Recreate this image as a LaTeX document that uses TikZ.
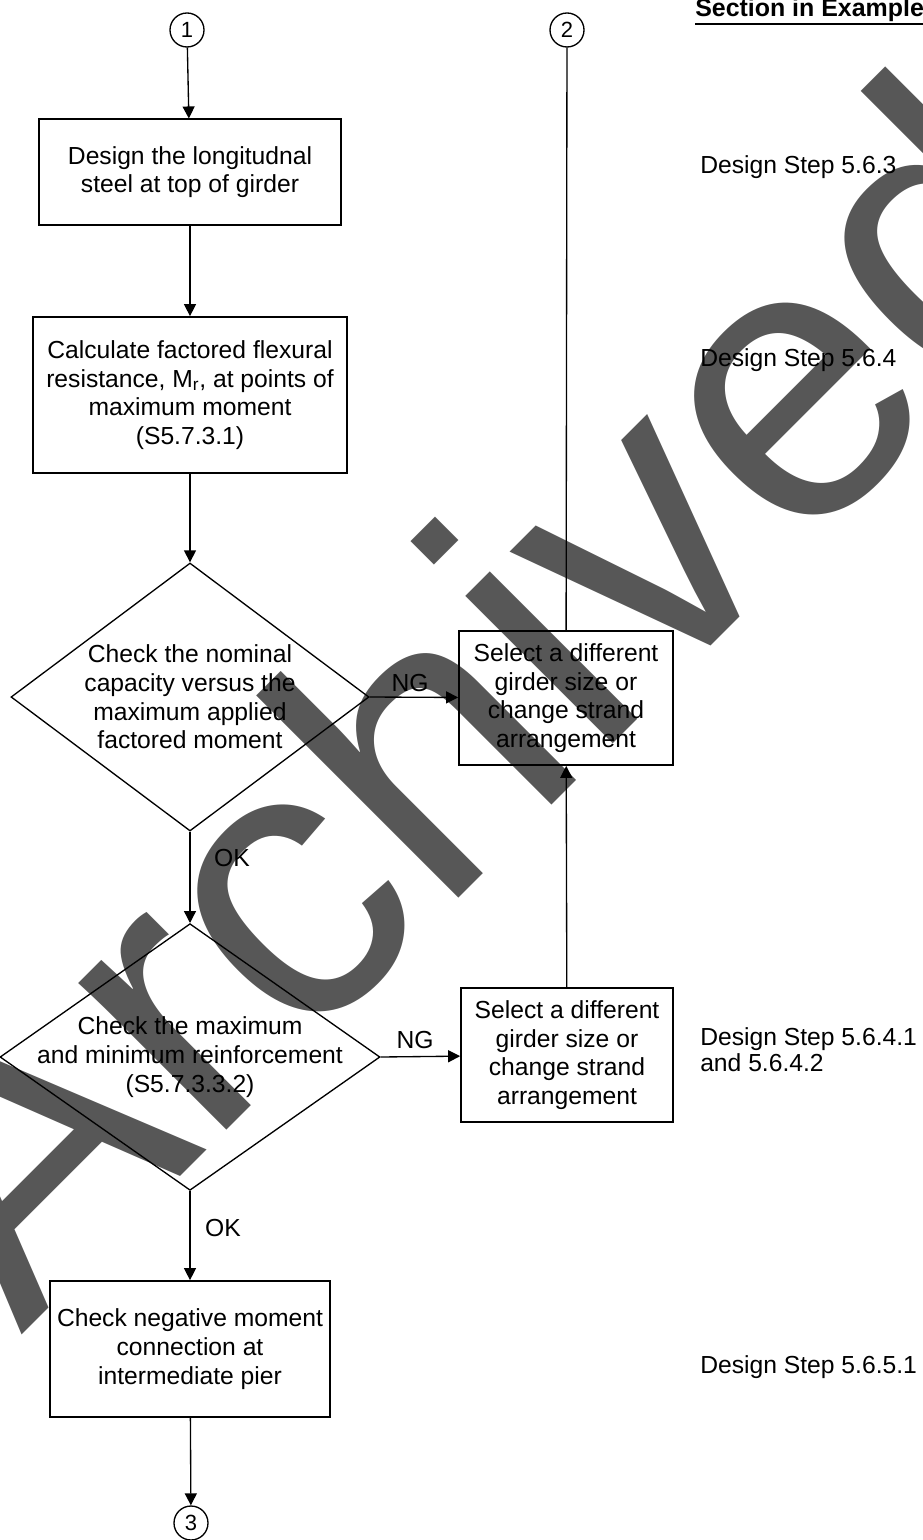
\documentclass[tikz,border=0pt]{standalone}
\usepackage{fontspec}
\setmainfont{Liberation Sans}
\usetikzlibrary{arrows.meta,shapes.geometric}
\definecolor{wmgray}{HTML}{575757}
\newcommand{\boxfont}{\fontsize{18.5}{21.5}\selectfont}
\tikzset{
  stepbox/.style={draw, line width=1.3pt, align=center, inner sep=2pt, font=\boxfont},
  decision/.style={draw, diamond, line width=1pt, inner sep=0pt},
  dectext/.style={align=center, inner sep=0pt, font=\boxfont},
  conn/.style={draw, circle, line width=1pt, minimum size=25.5pt, inner sep=0pt, font=\fontsize{16.5}{18}\selectfont},
  flow/.style={line width=1pt, -{Triangle[length=9pt,width=9pt]}},
  tag/.style={font=\boxfont, inner sep=0pt},
  side/.style={font=\boxfont, anchor=west, align=left, inner sep=0pt}
}
\begin{document}
\begin{tikzpicture}[x=0.75pt, y=-0.75pt]
	\useasboundingbox (0,0) rectangle (923,1540);
	\clip (0,0) rectangle (923,1540);
	
	% watermark
	\node [rotate=45, anchor=base west, inner sep=0pt, text=wmgray, font=\fontsize{296}{296}\selectfont] (stamp) at (21,1336) {Archived};
	
	\node [conn] (c1) at (187,30) {1};
	\node [conn] (c2) at (567,30) {2};
	\node [conn] (c3) at (191,1523) {3};
	
	\node [stepbox, minimum width=226.5pt, minimum height=79pt] (steel) at (190,172) {Design the longitudnal\\steel at top of girder};
	\node [stepbox, minimum width=236pt, minimum height=117pt] (resist) at (190,395) {Calculate factored flexural\\resistance, M\textsubscript{r}, at points of\\maximum moment\\(S5.7.3.1)};
	
	\node [decision, minimum width=268.5pt, minimum height=201pt] (nomchk) at (190,697) {};
	\node [dectext] (nomtxt) at (nomchk) {Check the nominal\\capacity versus the\\maximum applied\\factored moment};
	\node [decision, minimum width=285pt, minimum height=200pt] (reinchk) at (190,1057) {};
	\node [dectext] (reintxt) at (reinchk) {Check the maximum\\and minimum reinforcement\\(S5.7.3.3.2)};
	
	\node [stepbox, minimum width=160.5pt, minimum height=100.5pt] (girder1) at (566,698) {Select a different\\girder size or\\change strand\\arrangement};
	\node [stepbox, minimum width=159pt, minimum height=100pt] (girder2) at (567,1055) {Select a different\\girder size or\\change strand\\arrangement};
	
	\node [stepbox, minimum width=210pt, minimum height=102pt] (negmom) at (190,1349) {Check negative moment\\connection at\\intermediate pier};
	
	\draw [flow] (c1) -- (steel);
	\draw [flow] (steel) -- (resist);
	\draw [flow] (resist) -- (nomchk.north);
	\draw [flow] (nomchk.south) -- (reinchk.north);
	\draw [flow] (reinchk.south) -- (negmom);
	\draw [flow] (negmom) -- (c3);
	\draw [flow] (nomchk.east) -- (girder1);
	\draw [flow] (reinchk.east) -- (girder2);
	\draw [flow] (girder2) -- (girder1);
	\draw [line width=1pt] (girder1) -- (c2);
	
	\node [tag] (ng1) at (410,683) {NG};
	\node [tag] (ng2) at (415,1040) {NG};
	\node [tag] (ok1) at (232,858) {OK};
	\node [tag] (ok2) at (223,1228) {OK};
	
	\node [anchor=base west, inner sep=0pt, font=\fontsize{18.7}{21}\selectfont\bfseries] (hdr) at (695,17) {Section in Example};
	\draw [line width=1.5pt] ([yshift=-5pt]hdr.base west) -- ([yshift=-5pt]hdr.base east);
	
	\node [side] (ds1) at (700,167) {Design Step 5.6.3};
	\node [side] (ds2) at (700,360) {Design Step 5.6.4};
	\node [side, font=\fontsize{18.5}{19.5}\selectfont] (ds3) at (700,1050) {Design Step 5.6.4.1\\and 5.6.4.2};
	\node [side] (ds4) at (700,1367) {Design Step 5.6.5.1};
\end{tikzpicture}
\end{document}
